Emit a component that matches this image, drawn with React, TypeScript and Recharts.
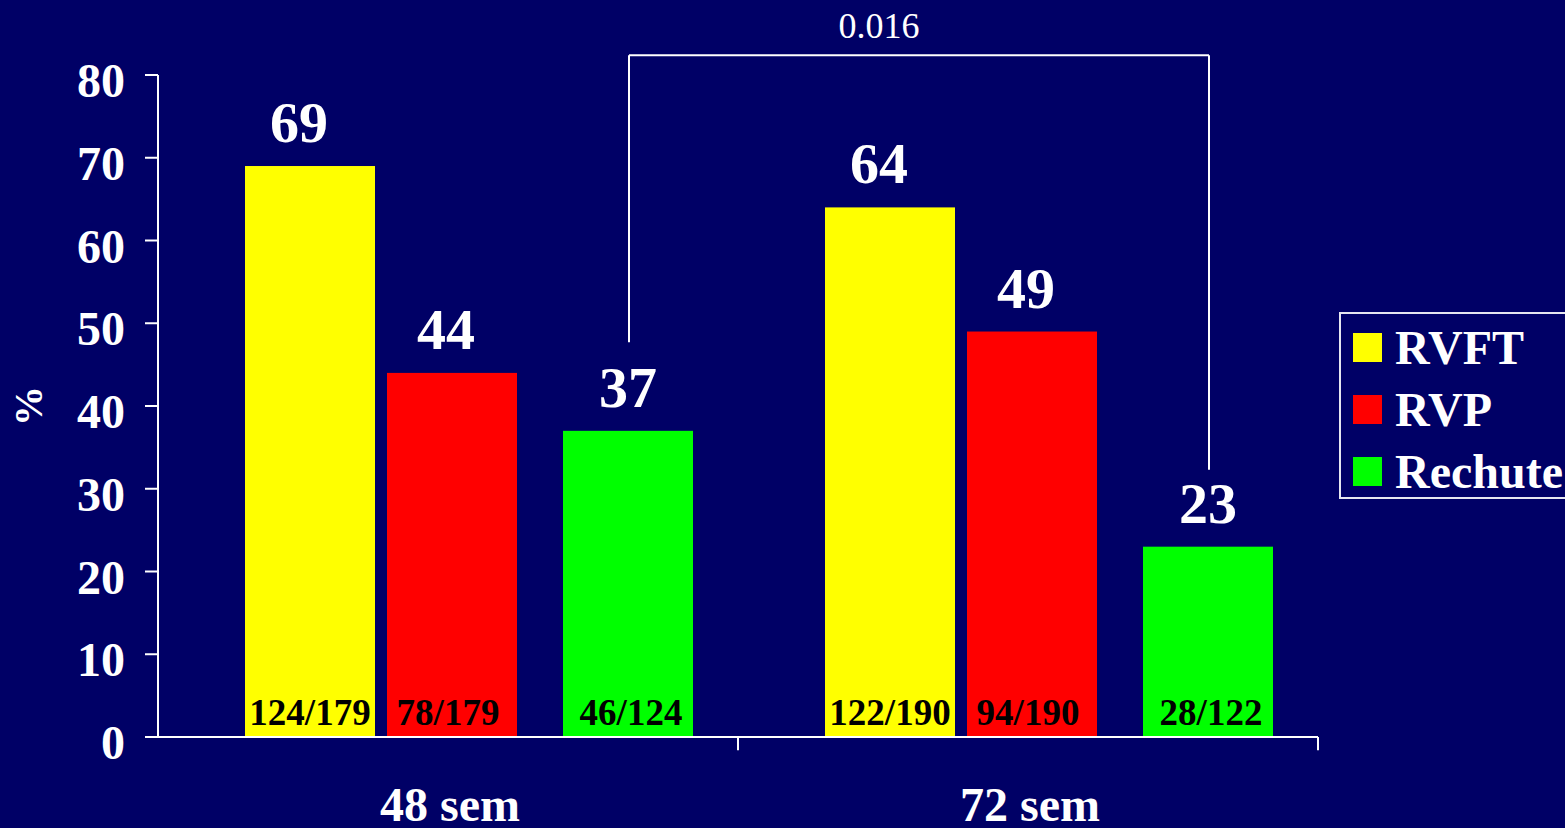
import {
  BarChart,
  Bar,
  XAxis,
  YAxis,
  ReferenceLine,
  LabelList,
  Legend,
} from "recharts";

const categories = ["48 sem", "72 sem"];
const rvft = [69, 64];
const rvp = [44, 49];
const rechute = [37, 23];
const rvftCounts = ["124/179", "122/190"];
const rvpCounts = ["78/179", "94/190"];
const rechuteCounts = ["46/124", "28/122"];
const yTicks = [0, 10, 20, 30, 40, 50, 60, 70, 80];
const pValue = "0.016";

const data = categories.map((sem, i) => ({
  sem,
  rvft: rvft[i],
  rvp: rvp[i],
  rechute: rechute[i],
  rvftN: rvftCounts[i],
  rvpN: rvpCounts[i],
  rechuteN: rechuteCounts[i],
}));

const FONT = '"Liberation Serif", "Times New Roman", serif';
const BG = "#000066";

const series = [
  { key: "rvft", countKey: "rvftN", name: "RVFT", color: "#ffff00", shift: 20, labelDx: -11, countDx: 0 },
  { key: "rvp", countKey: "rvpN", name: "RVP", color: "#ff0000", shift: 4, labelDx: -6, countDx: -4 },
  { key: "rechute", countKey: "rechuteN", name: "Rechute", color: "#00ff00", shift: 22, labelDx: 0, countDx: 3 },
];

// significance bracket between the two "Rechute" bars
const bracketTop = 82.4;
const bracketLeftEnd = 47.7;
const bracketRightEnd = 32.3;
const GREEN_DX = 181; // green bar centre, relative to the category centre
const EDGE_DX = 290; // half a category band

const box = (p: any) => {
  const vb = p.viewBox ?? {};
  return {
    x: p.x ?? vb.x,
    y: p.y ?? vb.y,
    width: p.width ?? vb.width,
    height: p.height ?? vb.height,
  };
};

const shifted = (dx: number, label?: string) => (p: any) => (
  <g>
    <line x1={p.x1 + dx} y1={p.y1} x2={p.x2 + dx} y2={p.y2} stroke="#fff" strokeWidth={2} />
    {label ? (
      <text
        x={p.x1 + dx + 250}
        y={p.y1 - 17}
        textAnchor="middle"
        fill="#fff"
        fontSize={36}
        fontFamily={FONT}
      >
        {label}
      </text>
    ) : null}
  </g>
);

function LegendBox({ payload }: any) {
  return (
    <div
      style={{
        width: 240,
        height: 187,
        boxSizing: "border-box",
        border: "2px solid #e6e6f0",
        paddingTop: 2.5,
        paddingLeft: 12,
        fontFamily: FONT,
      }}
    >
      {(payload || []).map((entry: any) => (
        <div key={entry.value} style={{ display: "flex", alignItems: "center", height: 62 }}>
          <span style={{ width: 29, height: 29, background: entry.color, display: "inline-block" }} />
          <span
            style={{
              marginLeft: 13,
              color: "#fff",
              fontSize: 48,
              fontWeight: "bold",
              lineHeight: "62px",
              whiteSpace: "nowrap",
            }}
          >
            {entry.value}
          </span>
        </div>
      ))}
    </div>
  );
}

export default function App() {
  return (
    <div
      style={{
        position: "fixed",
        left: 0,
        top: 0,
        width: 1565,
        height: 828,
        background: BG,
        overflow: "hidden",
      }}
    >
      <BarChart
        width={1565}
        height={828}
        data={data}
        margin={{ top: 75, right: 247, bottom: 0, left: 18 }}
        barGap={28}
        barSize={130}
      >
        <XAxis
          dataKey="sem"
          height={91}
          axisLine={{ stroke: "#fff", strokeWidth: 2 }}
          tickLine={false}
          tickSize={0}
          tickMargin={0}
          tick={(p: any) => (
            <text
              x={p.x + 2}
              y={p.y + 84}
              textAnchor="middle"
              fill="#fff"
              fontSize={48}
              fontWeight="bold"
              fontFamily={FONT}
            >
              {p.payload.value}
            </text>
          )}
        />
        <YAxis
          domain={[0, 80]}
          ticks={yTicks}
          interval={0}
          width={140}
          tickSize={13}
          tickMargin={20}
          axisLine={{ stroke: "#fff", strokeWidth: 2 }}
          tickLine={{ stroke: "#fff", strokeWidth: 2 }}
          tick={{ fill: "#fff", fontSize: 48, fontWeight: "bold", fontFamily: FONT, dy: 5 }}
          label={{
            value: "%",
            content: (p: any) => {
              const vb = p.viewBox;
              const cx = vb.x + 10;
              const cy = vb.y + vb.height / 2;
              return (
                <text
                  x={cx}
                  y={cy}
                  transform={`rotate(-90, ${cx}, ${cy})`}
                  textAnchor="middle"
                  dominantBaseline="central"
                  fill="#fff"
                  fontSize={40}
                  fontWeight="bold"
                  fontFamily={FONT}
                >
                  %
                </text>
              );
            },
          }}
        />
        <Legend
          layout="horizontal"
          verticalAlign="middle"
          align="center"
          wrapperStyle={{ left: 1339, top: 312, width: 240, height: 187 }}
          content={<LegendBox />}
        />
        {series.map((s) => (
          <Bar
            key={s.key}
            dataKey={s.key}
            name={s.name}
            fill={s.color}
            isAnimationActive={false}
            shape={(p: any) => (
              <rect x={p.x + s.shift} y={p.y} width={p.width} height={p.height} fill={s.color} />
            )}
          >
            <LabelList
              dataKey={s.key}
              content={(p: any) => {
                const b = box(p);
                return (
                  <text
                    x={b.x + b.width / 2 + s.shift + s.labelDx}
                    y={b.y - 24}
                    textAnchor="middle"
                    fill="#fff"
                    fontSize={58}
                    fontWeight="bold"
                    fontFamily={FONT}
                  >
                    {p.value}
                  </text>
                );
              }}
            />
            <LabelList
              dataKey={s.countKey}
              content={(p: any) => {
                const b = box(p);
                return (
                  <text
                    x={b.x + b.width / 2 + s.shift + s.countDx}
                    y={b.y + b.height - 12}
                    textAnchor="middle"
                    fill="#000"
                    fontSize={37}
                    fontWeight="bold"
                    fontFamily={FONT}
                  >
                    {p.value}
                  </text>
                );
              }}
            />
          </Bar>
        ))}
        {/* tick marks on the x axis at the category boundaries */}
        {categories.map((c) => (
          <ReferenceLine
            key={c}
            segment={[
              { x: c, y: 0 },
              { x: c, y: -1.6 },
            ]}
            ifOverflow="visible"
            shape={shifted(EDGE_DX)}
          />
        ))}
        <ReferenceLine
          segment={[
            { x: categories[0], y: bracketLeftEnd },
            { x: categories[0], y: bracketTop },
          ]}
          ifOverflow="visible"
          shape={shifted(GREEN_DX)}
        />
        <ReferenceLine
          segment={[
            { x: categories[0], y: bracketTop },
            { x: categories[1], y: bracketTop },
          ]}
          ifOverflow="visible"
          shape={shifted(GREEN_DX, pValue)}
        />
        <ReferenceLine
          segment={[
            { x: categories[1], y: bracketTop },
            { x: categories[1], y: bracketRightEnd },
          ]}
          ifOverflow="visible"
          shape={shifted(GREEN_DX)}
        />
      </BarChart>
    </div>
  );
}
